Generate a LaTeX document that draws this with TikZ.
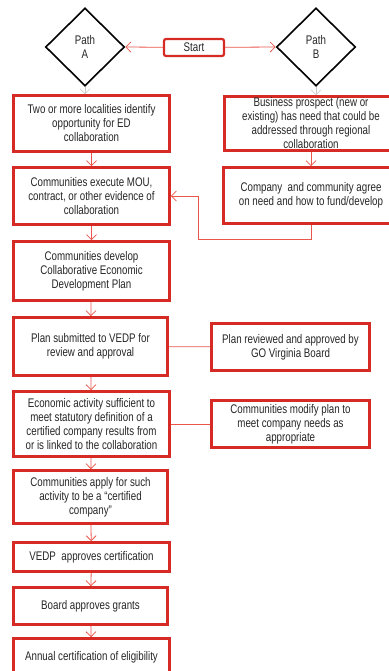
\documentclass[tikz,border=0pt]{standalone}
\usepackage{fontspec}
\setmainfont{Liberation Sans}[FakeStretch=0.78]
\usetikzlibrary{positioning,shapes.geometric,arrows.meta}

\definecolor{boxred}{RGB}{214,42,36}
\definecolor{linkred}{RGB}{234,86,76}
\definecolor{stubgrey}{RGB}{200,200,200}

\begin{document}
\begin{tikzpicture}[x=1pt,y=-1pt, >={Straight Barb[length=5pt,width=10pt]},
  font=\fontsize{12.5}{14}\selectfont, text=black!85]
  \useasboundingbox (0,0) rectangle (388,671);

  \tikzset{stepbox/.style={draw=boxred, line width=2.6pt, align=center, inner sep=1pt}}
  \tikzset{path_box/.style={diamond, draw=black, line width=1.6pt, align=center,
      minimum width=79pt, minimum height=78pt, inner sep=0pt}}
  \tikzset{flow/.style={->, draw=linkred, line width=0.8pt}}

  \node[path_box] (A) at (85,47) {Path\\A};
  \node[path_box] (B) at (316,47) {Path\\B};
  \node[draw=boxred, line width=2.2pt, rounded corners=2pt, minimum width=60pt,
    minimum height=17pt, inner sep=0pt] (start) at (194,47.5) {Start};

  \node[stepbox, minimum width=156pt, minimum height=56pt] (a1) at (91.5,123.5)
    {Two or more localities identify\\opportunity for ED\\collaboration};
  \node[stepbox, minimum width=173pt, minimum height=54pt] (b1) at (311,123.5)
    {Business prospect (new or\\existing) has need that could be\\addressed through regional\\collaboration};
  \node[stepbox, minimum width=156pt, minimum height=57pt] (a2) at (91.5,196)
    {Communities execute MOU,\\contract, or other evidence of\\collaboration};
  \node[stepbox, minimum width=175pt, minimum height=56pt] (b2) at (311,195.5)
    {Company\ \ and community agree\\on need and how to fund/develop};
  \node[stepbox, minimum width=156pt, minimum height=59pt] (a3) at (91.5,271)
    {Communities develop\\Collaborative Economic\\Development Plan};
  \node[stepbox, minimum width=154pt, minimum height=58pt] (a4) at (90.5,346.5)
    {Plan submitted to VEDP for\\review and approval};
  \node[stepbox, minimum width=158pt, minimum height=47pt] (r1) at (290.5,347)
    {Plan reviewed and approved by\\GO Virginia Board};
  \node[stepbox, minimum width=156pt, minimum height=65pt] (a5) at (91.5,424)
    {Economic activity sufficient to\\meet statutory definition of a\\certified company results from\\or is linked to the collaboration};
  \node[stepbox, minimum width=158pt, minimum height=47pt] (r2) at (290.5,424)
    {Communities modify plan to\\meet company needs as\\appropriate};
  \node[stepbox, minimum width=154pt, minimum height=53pt] (a6) at (90.5,497)
    {Communities apply for such\\activity to be a \textquotedblleft certified\\company\textquotedblright};
  \node[stepbox, minimum width=156pt, minimum height=29pt] (a7) at (91.5,557)
    {VEDP\ \ approves certification};
  \node[stepbox, minimum width=154pt, minimum height=37pt] (a8) at (90.5,606)
    {Board approves grants};
  \node[stepbox, minimum width=156pt, minimum height=37pt] (a9) at (91.5,657)
    {Annual certification of eligibility};

  \coordinate (loop) at (198,239);

  \draw[flow] (start) -- (A.east);
  \draw[flow] (start) -- (B.west);
  \draw[->, draw=stubgrey, line width=0.6pt] (A.south) -- (A.south |- a1.north);
  \draw[->, draw=stubgrey, line width=0.6pt] (B.south) -- (B.south |- b1.north);
  \draw[flow] (a1) -- (a2);
  \draw[flow] (b1) -- (b2);
  \draw[flow] (a2) -- (a3);
  \draw[flow] (a3) -- (a4);
  \draw[flow] (a4) -- (a5);
  \draw[flow] (a5) -- (a6);
  \draw[flow] (a6) -- (a7);
  \draw[flow] (a7) -- (a8);
  \draw[flow] (a8) -- (a9);
  \draw[flow] (b2.south) |- (loop) |- (a2.east);
  \draw[draw=linkred, line width=0.8pt] (a4) -- (r1);
  \draw[draw=linkred, line width=0.8pt] (a5) -- (r2);
\end{tikzpicture}
\end{document}
